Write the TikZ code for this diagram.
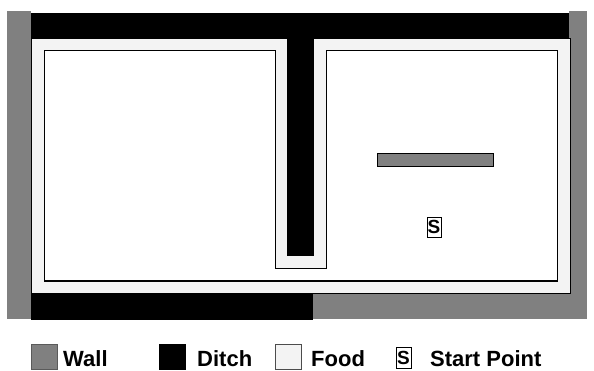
\documentclass[tikz,border=0pt]{standalone}
\usepackage{fontspec}
\setmainfont{Liberation Sans}
\usetikzlibrary{positioning}
\definecolor{wallgray}{RGB}{128,128,128}
\definecolor{foodgray}{RGB}{243,243,243}

\begin{document}
\begin{tikzpicture}[x=1pt, y=-1pt,
  wall/.style={fill=wallgray},
  ditch/.style={fill=black},
  food/.style={fill=foodgray, draw=black, line width=0.8pt},
  open/.style={fill=white, draw=black, line width=1pt},
  key/.style={draw=#1, line width=0.8pt, minimum width=26pt, minimum height=25pt, inner sep=0pt},
  startbox/.style={draw=black, fill=white, line width=0.8pt, inner sep=0pt,
                   minimum width=14pt, minimum height=20pt,
                   font=\fontsize{19}{19}\selectfont\bfseries},
  lbl/.style={anchor=base west, inner sep=0pt, font=\fontsize{22}{24}\selectfont\bfseries},
]
\useasboundingbox (0,0) rectangle (594,371);

% walls and ditches
\fill[wall]  (7,11)    rectangle (31,319);
\fill[wall]  (569,11)  rectangle (587,319);
\fill[ditch] (31,13)   rectangle (569,38);
\fill[ditch] (31,293)  rectangle (313,320);
\fill[wall]  (313,293) rectangle (587,319);
\draw[food]  (31,38)   rectangle (570,293);

% open floor round the vertical ditch
\draw[open] (44,51) -- (275,51) -- (275,269) -- (326,269) -- (326,51)
  -- (557,51) -- (557,281) -- (44,281) -- cycle;
\fill[ditch] (287,38) rectangle (314,256);

% inner wall and start
\draw[wall, draw=black, line width=0.8pt] (377,153) rectangle (493,166);
\node[startbox] (start) at (434,227) {S};

% legend
\node[key=wallgray!70!black, fill=wallgray] (kwall)  at (44,357)  {};
\node[lbl] (twall)  at (63,366)  {Wall};
\node[key=black, fill=black]               (kditch) at (172,357) {};
\node[lbl] (tditch) at (197,366) {Ditch};
\node[key=black!70, fill=foodgray]         (kfood)  at (288,357) {};
\node[lbl] (tfood)  at (311,366) {Food};
\node[startbox, minimum width=15pt, minimum height=21pt] (kstart) at (403.5,358) {S};
\node[lbl] (tstart) at (430,366) {Start Point};
\end{tikzpicture}
\end{document}
